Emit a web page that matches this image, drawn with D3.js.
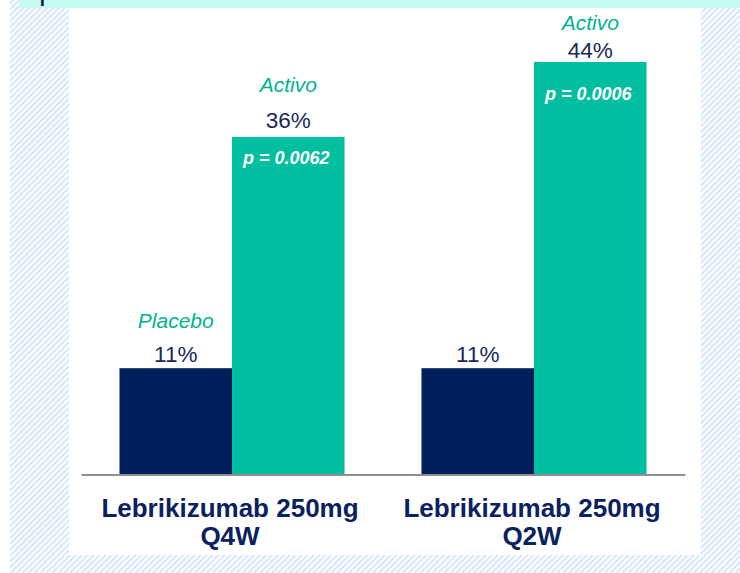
<!DOCTYPE html>
<html>
<head>
<meta charset="utf-8">
<script src="https://cdn.jsdelivr.net/npm/d3@7"></script>
<style>
  html, body { margin: 0; padding: 0; background: #ffffff; }
  svg { display: block; }
</style>
</head>
<body>
<svg id="chart" width="740" height="573" font-family="'Liberation Sans', Arial, Helvetica, sans-serif"></svg>
<script>
// ---- data ----
const categories = ["Lebrikizumab 250mg\nQ4W", "Lebrikizumab 250mg\nQ2W"];
const series = ["Placebo", "Activo"];
const placeboValues = [11.3, 11.3];
const activoValues = [36, 44];
const pValues = ["p = 0.0062", "p = 0.0006"];
const seriesNameShown = [[true, true], [false, true]]; // which series names are printed per group
const titleText = "pacientes";

// ---- layout ----
const W = 740, H = 573;
const navy = "#001f5b", teal = "#00bfa0";
const textNavy = "#18285c", textTeal = "#00b48f";
const svg = d3.select("#chart");

const defs = svg.append("defs");
const pat = defs.append("pattern")
  .attr("id", "hatch").attr("patternUnits", "userSpaceOnUse")
  .attr("width", 4.2).attr("height", 4.2)
  .attr("patternTransform", "rotate(45)");
pat.append("rect").attr("width", 4.2).attr("height", 4.2).attr("fill", "#ffffff");
pat.append("rect").attr("width", 2.1).attr("height", 4.2).attr("fill", "#d7e7fb");

// background
svg.append("rect").attr("x", 10).attr("y", 0).attr("width", W - 10).attr("height", H).attr("fill", "url(#hatch)");
svg.append("rect").attr("x", 19).attr("y", 0).attr("width", W - 19).attr("height", 8).attr("fill", "#c6fcf3");
svg.append("text").attr("x", 39).attr("y", 0).attr("font-size", 30).attr("fill", "#0b1f4f").text(titleText);
svg.append("rect").attr("x", 69).attr("y", 8).attr("width", 632).attr("height", 547).attr("fill", "#ffffff");

// scales
const baseline = 474;
const x0 = d3.scaleBand().domain(categories).range([81, 685]).paddingInner(0).paddingOuter(0);
const x1 = d3.scaleBand().domain(series).range([0, x0.bandwidth()]).paddingInner(0).paddingOuter(0.342);
const y = d3.scaleLinear().domain([0, 44]).range([baseline, 62]);

const rows = categories.map((c, i) => ({
  cat: c, i,
  vals: [
    { s: "Placebo", v: placeboValues[i], color: navy },
    { s: "Activo", v: activoValues[i], color: teal }
  ]
}));

const g = svg.append("g");
const groups = g.selectAll("g.grp").data(rows).join("g")
  .attr("class", "grp")
  .attr("transform", d => `translate(${x0(d.cat)},0)`);

groups.selectAll("rect").data(d => d.vals).join("rect")
  .attr("x", d => x1(d.s))
  .attr("y", d => y(d.v))
  .attr("width", x1.bandwidth())
  .attr("height", d => baseline - y(d.v))
  .attr("fill", d => d.color);

// axis line (x axis domain)
const xAxis = svg.append("g").attr("transform", `translate(0,${baseline + 0.5})`)
  .call(d3.axisBottom(x0).tickSize(0).tickFormat(""));
xAxis.select(".domain").attr("stroke", "#8f8f8f").attr("stroke-width", 2);

// value labels
const fmt = v => d3.format(".0f")(v) + "%";
groups.each(function(d) {
  const gg = d3.select(this);
  d.vals.forEach((v, k) => {
    const cx = x1(v.s) + x1.bandwidth() / 2;
    const off = v.s === "Placebo" ? 6.5 : (d.i === 0 ? 9 : 4);
    const yb = y(v.v) - off;
    gg.append("text").attr("x", cx).attr("y", yb)
      .attr("text-anchor", "middle").attr("font-size", 22.5).attr("fill", textNavy)
      .text(fmt(v.v));
    if (seriesNameShown[d.i][k]) {
      const nameGap = v.s === "Placebo" ? 34 : (d.i === 0 ? 36 : 28);
      gg.append("text").attr("x", cx).attr("y", yb - nameGap)
        .attr("text-anchor", "middle").attr("font-size", 21).attr("font-style", "italic")
        .attr("fill", textTeal).text(v.s);
    }
    if (v.s === "Activo") {
      gg.append("text").attr("x", cx - 2).attr("y", y(v.v) + (d.i === 0 ? 27 : 38))
        .attr("text-anchor", "middle").attr("font-size", 18).attr("font-style", "italic")
        .attr("font-weight", "bold").attr("fill", "#ffffff").text(pValues[d.i]);
    }
  });
});

// category labels
groups.each(function(d) {
  const lines = d.cat.split("\n");
  const t = d3.select(this).append("text")
    .attr("text-anchor", "middle").attr("font-size", 26).attr("font-weight", "bold")
    .attr("fill", "#0a2160");
  lines.forEach((ln, j) => {
    t.append("tspan").attr("x", x0.bandwidth() / 2 - 2).attr("y", 517 + j * 28).text(ln);
  });
});
</script>
</body>
</html>
